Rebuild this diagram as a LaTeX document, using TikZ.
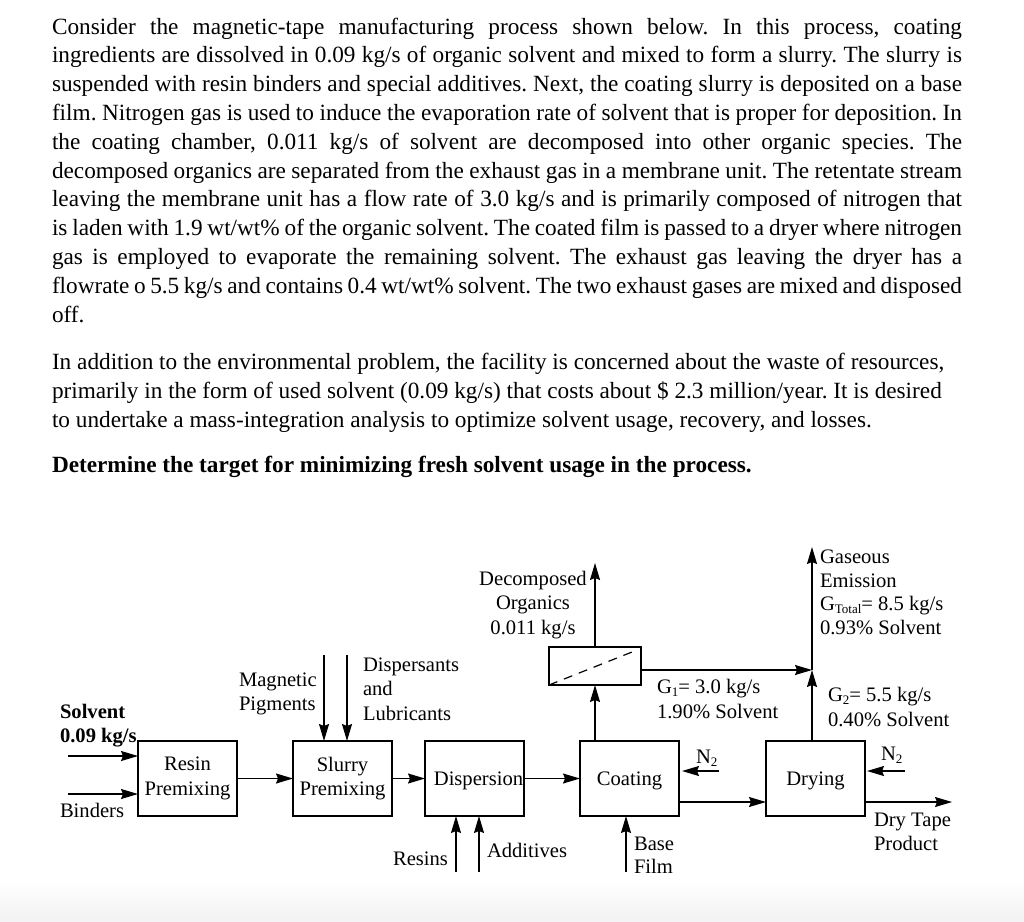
\documentclass[tikz,border=0pt]{standalone}
\usepackage{fontspec}
\setmainfont{Liberation Serif}
\usetikzlibrary{arrows.meta}
\newcommand\sbs[1]{\raisebox{-0.35ex}{\fontsize{13}{13}\selectfont #1}}
\frenchspacing
\begin{document}
\frenchspacing
\begin{tikzpicture}[x=1pt,y=-1pt,
  every node/.style={inner sep=0pt, outer sep=0pt},
  body/.style={anchor=base west, font=\fontsize{23.25}{28.8}\selectfont},
  bodyb/.style={anchor=base west, font=\fontsize{23.25}{28.8}\selectfont\bfseries},
  lbl/.style={anchor=base west, font=\fontsize{20.6}{24.4}\selectfont},
  lblb/.style={anchor=base west, font=\fontsize{20.6}{24.4}\selectfont\bfseries},
  lblc/.style={anchor=base, font=\fontsize{20.6}{24.4}\selectfont},
  lblr/.style={anchor=base east, font=\fontsize{20.6}{24.4}\selectfont},
  unit/.style={draw, line width=1.2pt, minimum width=99pt, minimum height=75pt, align=center, font=\fontsize{20.6}{24.4}\selectfont},
  unit1/.style={unit, text height=14pt, text depth=0pt},
  arr/.style={line width=1.2pt, -{Stealth[length=17pt,width=10pt,inset=2pt]}},
  ln/.style={line width=1.2pt}
]
\useasboundingbox (0,0) rectangle (1024,921);
\shade[top color=white, bottom color=black!5, draw=none] (0,880) rectangle (1024,921);

% ---------- body text ----------
\node[body] (p1) at (52,34) {\makebox[910pt][s]{Consider the magnetic-tape manufacturing process shown below. In this process, coating}};
\node[body] (p2) at (52,62.8) {\makebox[910pt][s]{ingredients are dissolved in 0.09 kg/s of organic solvent and mixed to form a slurry. The slurry is}};
\node[body] (p3) at (52,91.6) {\makebox[910pt][s]{suspended with resin binders and special additives. Next, the coating slurry is deposited on a base}};
\node[body] (p4) at (52,120.4) {\makebox[910pt][s]{film. Nitrogen gas is used to induce the evaporation rate of solvent that is proper for deposition. In}};
\node[body] (p5) at (52,149.2) {\makebox[910pt][s]{the coating chamber, 0.011 kg/s of solvent are decomposed into other organic species. The}};
\node[body] (p6) at (52,178) {\makebox[910pt][s]{decomposed organics are separated from the exhaust gas in a membrane unit. The retentate stream}};
\node[body] (p7) at (52,206.8) {\makebox[910pt][s]{leaving the membrane unit has a flow rate of 3.0 kg/s and is primarily composed of nitrogen that}};
\node[body] (p8) at (52,235.6) {\makebox[910pt][s]{is laden with 1.9 wt/wt\% of the organic solvent. The coated film is passed to a dryer where nitrogen}};
\node[body] (p9) at (52,264.4) {\makebox[910pt][s]{gas is employed to evaporate the remaining solvent. The exhaust gas leaving the dryer has a}};
\node[body] (p10) at (52,293.2) {\makebox[910pt][s]{flowrate o 5.5 kg/s and contains 0.4 wt/wt\% solvent. The two exhaust gases are mixed and disposed}};
\node[body] (p11) at (52,322) {off.};

\node[body] (q1) at (52,369) {In addition to the environmental problem, the facility is concerned about the waste of resources,};
\node[body] (q2) at (52,398) {primarily in the form of used solvent (0.09 kg/s) that costs about \$ 2.3 million/year. It is desired};
\node[body] (q3) at (52,427) {to undertake a mass-integration analysis to optimize solvent usage, recovery, and losses.};
\node[bodyb] (q4) at (52,472) {Determine the target for minimizing fresh solvent usage in the process.};

% ---------- units ----------
\node[unit] (rp) at (187.5,778.5) {Resin\\Premixing};
\node[unit] (sp) at (342.5,778.5) {Slurry\\Premixing};
\node[unit1] (disp) at (474.5,778.5) {\hspace*{8pt}Dispersion};
\node[unit1] (coat) at (629.5,778.5) {Coating};
\node[unit1] (dry) at (815.5,778.5) {Drying};
\node[draw, line width=1.2pt, minimum width=92pt, minimum height=38pt] (mem) at (595,666) {};
\coordinate (memdash) at (632,652);
\draw[ln, dash pattern=on 9pt off 7pt] (mem.south west) -- (memdash);

% ---------- free ends ----------
\coordinate (solin) at (68,756);
\coordinate (binin) at (68,794);
\coordinate (magin) at (324,655);
\coordinate (dispin) at (347,655);
\coordinate (resin) at (456,872);
\coordinate (addin) at (479,872);
\coordinate (decout) at (595,563);
\coordinate (gj) at (812,670);
\coordinate (gtop) at (812,547);
\coordinate (low) at (0,802);
\coordinate (n2a) at (719,771);
\coordinate (n2at) at (682,771);
\coordinate (n2b) at (905,771);
\coordinate (n2bt) at (867,771);
\coordinate (tape) at (952,802);
\coordinate (film) at (626,872);

% ---------- connectors ----------
\draw[arr] (solin) -- (solin -| rp.west);
\draw[arr] (binin) -- (binin -| rp.west);
\draw[arr] (rp.east) -- (sp.west);
\draw[arr] (sp.east) -- (disp.west);
\draw[arr] (disp.east) -- (coat.west);
\draw[arr] (magin) -- (magin |- sp.north);
\draw[arr] (dispin) -- (dispin |- sp.north);
\draw[arr] (resin) -- (resin |- disp.south);
\draw[arr] (addin) -- (addin |- disp.south);
\draw[arr] (mem.south |- coat.north) -- (mem.south);
\draw[arr] (mem.north) -- (decout);
\draw[arr] (gj -| mem.east) -- (gj);
\draw[arr] (gj |- dry.north) -- (gj);
\draw[arr] (gj) -- (gtop);
\draw[arr] (coat.east |- low) -- (dry.west |- low);
\draw[arr] (n2a) -- (n2at);
\draw[arr] (n2b) -- (n2bt);
\draw[arr] (dry.east |- low) -- (tape);
\draw[arr] (film) -- (film |- coat.south);

% ---------- labels ----------
\node[lblb] (l1) at (60,718) {Solvent};
\node[lblb] (l2) at (60,742) {0.09 kg/s};
\node[lbl] (l3) at (60,817) {Binders};
\node[lbl] (l4) at (239,686.5) {Magnetic};
\node[lbl] (l5) at (239,710.5) {Pigments};
\node[lbl] (l6) at (363,671) {Dispersants};
\node[lbl] (l7) at (363,695.5) {and};
\node[lbl] (l8) at (363,720) {Lubricants};
\node[lblr] (l9) at (448,865) {Resins};
\node[lbl] (l10) at (487,857) {Additives};
\node[lblc] (l11) at (533,585) {Decomposed};
\node[lblc] (l12) at (533,609.5) {Organics};
\node[lblc] (l13) at (533,634) {0.011 kg/s};
\node[lbl] (l14) at (657,693.5) {G\sbs{1}= 3.0 kg/s};
\node[lbl] (l15) at (657,718) {1.90\% Solvent};
\node[lbl] (l16) at (634,850) {Base};
\node[lbl] (l17) at (634,873) {Film};
\node[lbl] (l18) at (696,763) {N\sbs{2}};
\node[lbl] (l19) at (881,760) {N\sbs{2}};
\node[lbl] (l20) at (820,563) {Gaseous};
\node[lbl] (l21) at (820,587.5) {Emission};
\node[lbl] (l22) at (820,610) {G\sbs{Total}= 8.5 kg/s};
\node[lbl] (l23) at (820,634) {0.93\% Solvent};
\node[lbl] (l24) at (828,701.5) {G\sbs{2}= 5.5 kg/s};
\node[lbl] (l25) at (828,726.5) {0.40\% Solvent};
\node[lbl] (l26) at (874,826) {Dry Tape};
\node[lbl] (l27) at (874,850) {Product};
\end{tikzpicture}
\end{document}
